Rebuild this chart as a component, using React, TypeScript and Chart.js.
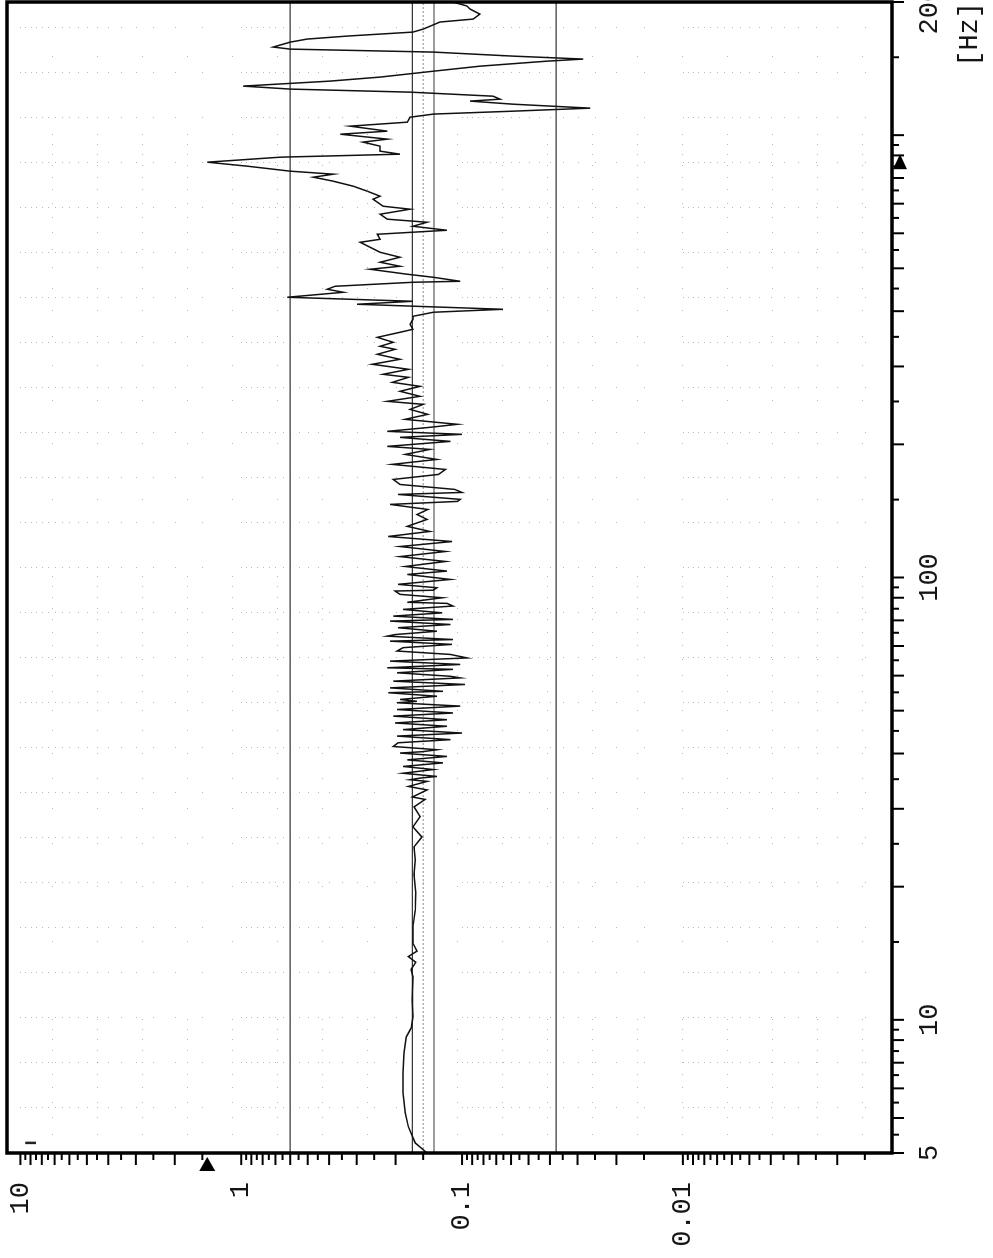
import React, { useEffect, useRef } from 'react';
import { Chart, registerables } from 'chart.js';

Chart.register(...registerables);

// Measured response: [frequency in Hz, amplitude]
const RESPONSE_LOW: [number, number][] = [
  [5.0, 0.144], [5.27, 0.163], [5.73, 0.175], [6.16, 0.181], [6.84, 0.185], [7.59, 0.185],
  [8.42, 0.183], [9.15, 0.179], [9.59, 0.17], [10.16, 0.167], [11.1, 0.168], [12.5, 0.167],
  [13.0, 0.17], [13.5, 0.162], [13.9, 0.175], [14.3, 0.16], [14.9, 0.167], [16.2, 0.167],
  [17.7, 0.163], [19.4, 0.162], [21.3, 0.165], [23.0, 0.163], [24.6, 0.165], [25.9, 0.152],
  [27.3, 0.167], [28.8, 0.155], [30.3, 0.165], [31.5, 0.147], [31.9, 0.168], [33.1, 0.144],
  [33.7, 0.175], [34.6, 0.144],
];

const RESPONSE_MID: [number, number][] = [
  [34.9, 0.172], [35.2, 0.155], [35.5, 0.13], [36.1, 0.185], [36.8, 0.135], [37.4, 0.185],
  [38.1, 0.122], [38.7, 0.177], [39.4, 0.117], [40.1, 0.191], [40.4, 0.15], [40.8, 0.13],
  [41.5, 0.205], [42.3, 0.195], [43.0, 0.113], [43.8, 0.197], [44.5, 0.1], [45.3, 0.185],
  [46.1, 0.117], [46.9, 0.201], [47.7, 0.117], [48.6, 0.205], [49.4, 0.11], [50.3, 0.197],
  [51.2, 0.102], [52.1, 0.197], [52.5, 0.16], [53.0, 0.191], [53.9, 0.13], [54.9, 0.216],
  [55.3, 0.122], [56.3, 0.212], [57.3, 0.097], [58.3, 0.205], [59.3, 0.102], [59.8, 0.113],
  [60.9, 0.197], [62.0, 0.11], [62.5, 0.218], [63.6, 0.102], [64.7, 0.212], [65.8, 0.095],
  [67.0, 0.113], [68.2, 0.197], [69.4, 0.185], [70.6, 0.111], [71.8, 0.212], [72.4, 0.11],
  [73.7, 0.218], [74.3, 0.201], [75.6, 0.13], [77.0, 0.195], [78.3, 0.113], [79.7, 0.212],
  [80.4, 0.11], [81.8, 0.205], [83.2, 0.123], [84.7, 0.185], [86.2, 0.11], [87.4, 0.117],
  [87.9, 0.177], [90.0, 0.123], [91.6, 0.191], [93.2, 0.201], [93.6, 0.135], [94.8, 0.13],
  [96.5, 0.195], [99.0, 0.113], [101.6, 0.177], [103.4, 0.117],
];

const RESPONSE_UPPER: [number, number][] = [
  [105.9, 0.181], [108.7, 0.119], [111.5, 0.191], [114.5, 0.119], [117.5, 0.191], [120.6, 0.111],
  [123.8, 0.216], [127.1, 0.14], [130.5, 0.177], [135.3, 0.144], [138.8, 0.16], [142.5, 0.143],
  [146.3, 0.212], [148.6, 0.105], [150.2, 0.102], [154.1, 0.195], [155.7, 0.1], [158.2, 0.108],
  [162.3, 0.191], [166.6, 0.205], [171.0, 0.128], [175.5, 0.119], [180.2, 0.207], [184.9, 0.13],
  [189.8, 0.181], [194.8, 0.14], [197.9, 0.218], [203.1, 0.113], [207.4, 0.191], [210.7, 0.1],
  [214.0, 0.218], [218.5, 0.14], [222.0, 0.105], [227.8, 0.181], [233.8, 0.143], [239.9, 0.172],
  [246.3, 0.15], [250.2, 0.218], [256.8, 0.155], [263.6, 0.191], [270.5, 0.155], [276.2, 0.207],
  [283.5, 0.175], [288.0, 0.228], [295.6, 0.175], [303.4, 0.255], [311.4, 0.191], [319.6, 0.242],
  [328.0, 0.201],
];

const RESPONSE_HIGH: [number, number][] = [
  [333.2, 0.235], [340.2, 0.205], [349.1, 0.242], [358.4, 0.191], [364.0, 0.167], [373.6, 0.172],
  [383.5, 0.167], [389.5, 0.167], [397.8, 0.135], [404.0, 0.0653], [414.7, 0.299], [421.2, 0.167],
  [430.1, 0.619], [441.4, 0.345], [448.4, 0.408], [455.4, 0.376], [465.0, 0.167], [467.4, 0.102],
  [477.2, 0.135], [484.8, 0.177], [497.6, 0.261], [505.4, 0.191], [516.1, 0.235], [529.7, 0.191],
  [543.6, 0.235], [557.9, 0.261], [572.6, 0.289], [581.6, 0.235], [597.0, 0.242], [609.6, 0.117],
  [622.4, 0.167], [635.6, 0.144], [645.7, 0.218], [662.7, 0.235], [680.2, 0.172], [690.9, 0.228],
  [716.5, 0.253], [727.8, 0.235], [747.0, 0.269], [766.7, 0.311], [786.9, 0.383], [803.5, 0.472],
  [816.2, 0.383], [829.1, 0.6], [850.9, 0.939], [868.8, 1.425], [891.7, 0.666], [905.8, 0.191],
  [920.1, 0.235], [944.4, 0.235], [964.4, 0.281], [979.5, 0.218], [1005, 0.356], [1021, 0.218],
  [1048, 0.321], [1070, 0.177], [1098, 0.172], [1116, 0.135], [1133, 0.0588], [1151, 0.0263],
  [1175, 0.0588], [1194, 0.092], [1206, 0.0673], [1225, 0.0724], [1251, 0.172], [1271, 0.6],
  [1291, 0.98], [1325, 0.396], [1353, 0.235], [1395, 0.135], [1432, 0.083], [1470, 0.0412],
  [1486, 0.0283], [1509, 0.0588], [1541, 0.135], [1565, 0.6], [1582, 0.716], [1623, 0.6],
  [1649, 0.503], [1675, 0.331], [1710, 0.167], [1737, 0.15], [1802, 0.126], [1830, 0.089],
  [1878, 0.083], [1928, 0.092], [1959, 0.095], [1999, 0.11], [2000, 0.117],
];

// Reference level (dotted) and the ±1 dB / ±12 dB limit lines
const REFERENCE_LEVEL = 0.15;
const LIMIT_LEVELS = [0.6, 0.168, 0.134, 0.0375];

const FREQ_MIN = 5;
const FREQ_MAX = 2000;
const AMP_MIN = 0.00113;
const AMP_MAX = 11.5;

const FREQ_TICK_LABELS = [5, 10, 100, 2000];
const AMP_TICK_LABELS = [10, 1, 0.1, 0.01];
const FREQ_UNIT = '[Hz]';

// small cursor mark near the top-left corner of the plot
const CURSOR_MARK: [number, number][] = [[5.27, 9.5], [5.27, 8.5]];

const W = 1258;
const H = 993;
const FONT = 'Liberation Mono, Courier New, monospace';

function tickPositions(min: number, max: number) {
  const out: { v: number; major: boolean }[] = [];
  for (let e = -4; e <= 4; e++) {
    for (let m = 1; m < 10; m += 0.5) {
      const v = m * Math.pow(10, e);
      if (v >= min * 0.9999 && v <= max * 1.0001) out.push({ v, major: Number.isInteger(m) });
    }
  }
  return out;
}

const framePlugin = {
  id: 'frame',
  beforeDatasetsDraw(chart: any) {
    const { ctx, chartArea: a, scales } = chart;
    const x = scales.x;
    const y = scales.y;
    ctx.save();
    ctx.strokeStyle = 'rgba(0,0,0,0.28)';
    ctx.lineWidth = 1;
    ctx.setLineDash([1, 44]);
    for (const t of tickPositions(FREQ_MIN, FREQ_MAX)) {
      const px = Math.round(x.getPixelForValue(t.v)) + 0.5;
      ctx.beginPath();
      ctx.moveTo(px, a.top);
      ctx.lineTo(px, a.bottom);
      ctx.stroke();
    }
    for (const t of tickPositions(AMP_MIN, AMP_MAX)) {
      const py = Math.round(y.getPixelForValue(t.v)) + 0.5;
      ctx.beginPath();
      ctx.moveTo(a.left, py);
      ctx.lineTo(a.right, py);
      ctx.stroke();
    }
    ctx.restore();
  },
  afterDraw(chart: any) {
    const { ctx, chartArea: a, scales } = chart;
    const x = scales.x;
    const y = scales.y;
    ctx.save();
    ctx.strokeStyle = '#000';
    ctx.fillStyle = '#000';
    ctx.setLineDash([]);
    ctx.lineWidth = 3.5;
    ctx.strokeRect(a.left, a.top, a.right - a.left, a.bottom - a.top);
    ctx.lineWidth = 2;
    for (const t of tickPositions(FREQ_MIN, FREQ_MAX)) {
      const px = x.getPixelForValue(t.v);
      const len = t.major ? 12 : 7;
      ctx.beginPath();
      ctx.moveTo(px, a.bottom);
      ctx.lineTo(px, a.bottom + len);
      ctx.stroke();
    }
    for (const t of tickPositions(AMP_MIN, AMP_MAX)) {
      const py = y.getPixelForValue(t.v);
      const len = t.major ? 12 : 7;
      ctx.beginPath();
      ctx.moveTo(a.left, py);
      ctx.lineTo(a.left - len, py);
      ctx.stroke();
    }
    // peak markers
    const all = [...RESPONSE_LOW, ...RESPONSE_MID, ...RESPONSE_UPPER, ...RESPONSE_HIGH];
    let peak = all[0];
    for (const p of all) if (p[1] > peak[1]) peak = p;
    const py = y.getPixelForValue(peak[1]);
    ctx.beginPath();
    ctx.moveTo(a.left - 4, py);
    ctx.lineTo(a.left - 18, py - 8);
    ctx.lineTo(a.left - 18, py + 8);
    ctx.closePath();
    ctx.fill();
    const px = x.getPixelForValue(peak[0]);
    ctx.beginPath();
    ctx.moveTo(px + 8, a.bottom + 8);
    ctx.lineTo(px - 7, a.bottom + 1);
    ctx.lineTo(px - 7, a.bottom + 15);
    ctx.closePath();
    ctx.fill();
    ctx.restore();
  },
};

const zeroPadding = (scale: any) => {
  scale.paddingLeft = 0;
  scale.paddingRight = 0;
  scale.paddingTop = 0;
  scale.paddingBottom = 0;
};

export default function App() {
  const ref = useRef<HTMLCanvasElement | null>(null);

  useEffect(() => {
    if (!ref.current) return;
    const toXY = (arr: [number, number][]) => arr.map(([f, v]) => ({ x: f, y: v }));
    const trace = [
      ...toXY(RESPONSE_LOW),
      ...toXY(RESPONSE_MID),
      ...toXY(RESPONSE_UPPER),
      ...toXY(RESPONSE_HIGH),
    ];
    const flat = (level: number) => [
      { x: FREQ_MIN, y: level },
      { x: FREQ_MAX, y: level },
    ];
    const datasets: any[] = [
      {
        data: trace,
        borderColor: '#111',
        borderWidth: 1.5,
        pointRadius: 0,
        tension: 0,
        fill: false,
        order: 0,
      },
      ...LIMIT_LEVELS.map((lv) => ({
        data: flat(lv),
        borderColor: '#3a3a3a',
        borderWidth: 1.2,
        pointRadius: 0,
        fill: false,
        order: 1,
      })),
      {
        data: flat(REFERENCE_LEVEL),
        borderColor: '#8a8a8a',
        borderWidth: 1,
        borderDash: [2, 2],
        pointRadius: 0,
        fill: false,
        order: 2,
      },
      {
        data: toXY(CURSOR_MARK),
        borderColor: '#222',
        borderWidth: 2.5,
        pointRadius: 0,
        fill: false,
        order: 3,
      },
    ];

    const chart = new Chart(ref.current, {
      type: 'line',
      data: { datasets },
      plugins: [framePlugin],
      options: {
        animation: false,
        responsive: false,
        devicePixelRatio: 1,
        events: [],
        layout: { autoPadding: false, padding: { top: 7, right: 2, left: 0, bottom: 0 } } as any,
        plugins: { legend: { display: false }, tooltip: { enabled: false } },
        scales: {
          x: {
            type: 'logarithmic',
            min: FREQ_MIN,
            max: FREQ_MAX,
            grid: { display: false, drawTicks: false },
            border: { display: false },
            afterBuildTicks: (scale: any) => {
              scale.ticks = FREQ_TICK_LABELS.map((v) => ({ value: v }));
            },
            afterFit: (scale: any) => {
              scale.height = H - 892;
              zeroPadding(scale);
            },
            ticks: {
              autoSkip: false,
              maxRotation: 0,
              minRotation: 0,
              padding: 22,
              color: '#151515',
              font: { family: FONT, size: 27 },
              callback: (v: any) => String(v),
            },
            title: {
              display: true,
              text: FREQ_UNIT,
              align: 'end',
              color: '#151515',
              font: { family: FONT, size: 27 },
              padding: { top: 0, bottom: 7 },
            },
          },
          y: {
            type: 'logarithmic',
            min: AMP_MIN,
            max: AMP_MAX,
            grid: { display: false, drawTicks: false },
            border: { display: false },
            afterBuildTicks: (scale: any) => {
              scale.ticks = AMP_TICK_LABELS.map((v) => ({ value: v }));
            },
            afterFit: (scale: any) => {
              scale.width = 105;
              zeroPadding(scale);
            },
            ticks: {
              autoSkip: false,
              padding: 29,
              color: '#151515',
              font: { family: FONT, size: 27 },
              callback: (v: any) => String(v),
            },
          },
        },
      } as any,
    });
    return () => chart.destroy();
  }, []);

  return (
    <div
      style={{
        position: 'absolute',
        left: 0,
        top: 0,
        width: H,
        height: W,
        overflow: 'hidden',
        background: '#fff',
      }}
    >
      <canvas
        ref={ref}
        width={W}
        height={H}
        style={{
          position: 'absolute',
          left: 0,
          top: 0,
          width: W,
          height: H,
          transformOrigin: '0 0',
          transform: `translateY(${W}px) rotate(-90deg)`,
        }}
      />
    </div>
  );
}
